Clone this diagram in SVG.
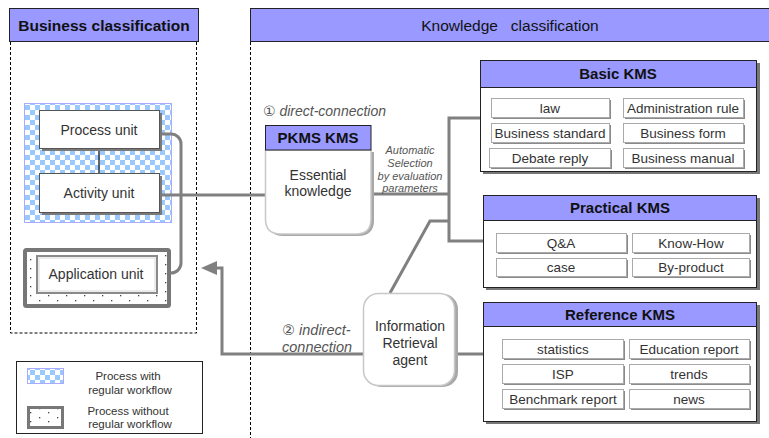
<svg xmlns="http://www.w3.org/2000/svg" width="769" height="438" viewBox="0 0 769 438">
  <style>
    .t { font-family: "Liberation Sans", Arial, "DejaVu Sans", sans-serif; fill: #333; text-anchor: middle; }
    .hd { font-size: 15px; font-weight: bold; fill: #111; }
    .it { font-size: 13.5px; }
    .em { font-style: italic; fill: #555; }
    .hdr { fill: #9999ff; stroke: #222; stroke-width: 1; }
    .dash { fill: none; stroke: #000; stroke-width: 1; stroke-dasharray: 3 2; }
    .conn { fill: none; stroke: #808080; stroke-width: 3; }
    .unit { fill: #fff; stroke: #555; stroke-width: 1; }
    .ushadow { fill: #7a7a7a; }
    .box { fill: #fff; stroke: #222; stroke-width: 1; }
    .bshadow { fill: #777; }
    .item { fill: #fff; stroke: #aaa; stroke-width: 1; }
    .ishadow { fill: #8a8a8a; }
    .soft { fill: #fff; stroke: #c8c8c8; stroke-width: 1.5; }
    .sshadow { fill: #a8a8a8; }
  </style>
  <defs>
    <pattern id="checker" width="10" height="10" patternUnits="userSpaceOnUse">
      <rect width="10" height="10" fill="#ffffff"/>
      <rect width="5" height="5" fill="#99c9ff"/>
      <rect x="5" y="5" width="5" height="5" fill="#99c9ff"/>
    </pattern>
    <pattern id="dots" width="18" height="9" patternUnits="userSpaceOnUse">
      <rect width="18" height="9" fill="#ffffff"/>
      <rect x="3" y="3" width="1.3" height="1.3" fill="#444"/>
      <rect x="12" y="7" width="1.3" height="1.3" fill="#444"/>
    </pattern>
    <marker id="arrow" markerUnits="userSpaceOnUse" markerWidth="17" markerHeight="15" refX="1" refY="7" orient="auto">
      <path d="M0,0 L16,7 L0,14 Z" fill="#808080"/>
    </marker>
  </defs>

  <rect width="769" height="438" fill="#fff"/>

  <!-- column headers and lanes -->
  <g id="business-lane">
    <rect class="hdr" x="9.5" y="8.5" width="189" height="33"/>
    <text class="t hd" x="104" y="31" style="font-size:15.5px">Business classification</text>
    <path class="dash" d="M10.5,42 V333 H196.5 V42"/>
  </g>
  <g id="knowledge-lane">
    <rect class="hdr" x="250.5" y="8.5" width="525" height="33"/>
    <text class="t" x="510" y="31" style="font-size:15.5px;fill:#111" xml:space="preserve">Knowledge   classification</text>
    <path class="dash" d="M250.5,42 V438"/>
  </g>

  <!-- regular-workflow area -->
  <rect x="24.5" y="103.5" width="147" height="119" fill="url(#checker)" stroke="#aaaaff" stroke-width="1"/>

  <!-- connectors -->
  <g id="connectors">
    <path class="conn" d="M162,134 H171 A10,10 0 0 1 181,144 V263 A10,10 0 0 1 171,273 H160"/>
    <path d="M99,148 V173" fill="none" stroke="#333" stroke-width="1.5"/>
    <path class="conn" d="M162,195 H266"/>
    <path class="conn" d="M374,194 H449"/>
    <path class="conn" d="M480,118 H449 V241 H483"/>
    <path class="conn" d="M390,293 L430,221 H449" stroke-width="2.5"/>
    <path class="conn" d="M458,354 H483"/>
    <path class="conn" d="M363,354 H222 V268 H216" marker-end="url(#arrow)"/>
  </g>

  <g id="process-unit">
    <rect class="ushadow" x="42" y="113" width="120" height="38"/>
    <rect class="unit" x="39.5" y="110.5" width="120" height="38"/>
    <text class="t" x="99" y="135" style="font-size:14px">Process unit</text>
  </g>
  <g id="activity-unit">
    <rect class="ushadow" x="42" y="176" width="120" height="39"/>
    <rect class="unit" x="39.5" y="173.5" width="120" height="39"/>
    <text class="t" x="99" y="198" style="font-size:14px">Activity unit</text>
  </g>
  <g id="application-unit">
    <rect x="25" y="250" width="144" height="56" fill="url(#dots)" stroke="#777" stroke-width="4" rx="1.5"/>
    <rect x="37" y="256" width="120" height="37" fill="#fff" stroke="#8a8a8a" stroke-width="2"/>
    <rect x="39" y="258" width="116" height="33" fill="none" stroke="#d8d8d8" stroke-width="1"/>
    <text class="t" x="96" y="279" style="font-size:14px">Application unit</text>
  </g>

  <g id="legend">
    <rect x="16.5" y="361.5" width="186" height="72" fill="#fff" stroke="#222" stroke-width="1"/>
    <rect x="27.5" y="368.5" width="36" height="15" fill="url(#checker)" stroke="#aaaaff" stroke-width="1"/>
    <rect x="28.5" y="407.5" width="34" height="20" fill="url(#dots)" stroke="#777" stroke-width="3"/>
    <g class="t" style="font-size:11.5px">
      <text x="128" y="380">Process with</text>
      <text x="130" y="394">regular workflow</text>
      <text x="128" y="415">Process without</text>
      <text x="130" y="428">regular workflow</text>
    </g>
  </g>

  <!-- labels on the knowledge side -->
  <text class="t em" x="263" y="116" style="font-size:14px;text-anchor:start">① direct-connection</text>
  <g class="t em" style="font-size:11px">
    <text x="410" y="154">Automatic</text>
    <text x="410" y="167">Selection</text>
    <text x="410" y="180">by evaluation</text>
    <text x="410" y="192">parameters</text>
  </g>
  <text class="t em" x="282" y="335" style="font-size:14.5px;text-anchor:start">② indirect-</text>
  <text class="t em" x="282" y="352" style="font-size:14.5px;text-anchor:start">connection</text>

  <g id="pkms">
    <path class="sshadow" d="M268,152 H374 V220 Q374,236 358,236 H283 Q268,236 268,220 Z"/>
    <path class="soft" d="M265.5,150 H371 V219 Q371,234 356,234 H280.5 Q265.5,234 265.5,219 Z"/>
    <rect class="hdr" x="265.5" y="125.5" width="105.5" height="24.5"/>
    <text class="t hd" x="318" y="143">PKMS KMS</text>
    <text class="t" x="318" y="180" style="font-size:14px">Essential</text>
    <text class="t" x="318" y="196" style="font-size:14px">knowledge</text>
  </g>

  <g id="retrieval-agent">
    <rect class="sshadow" x="366" y="294" width="92" height="93" rx="15"/>
    <rect class="soft" x="363.5" y="293.5" width="91" height="92" rx="15"/>
    <text class="t" x="410" y="331" style="font-size:14px">Information</text>
    <text class="t" x="410" y="348" style="font-size:14px">Retrieval</text>
    <text class="t" x="410" y="365" style="font-size:14px">agent</text>
  </g>

  <g id="basic-kms">
    <rect class="bshadow" x="483" y="63" width="277" height="111"/>
    <rect class="box" x="480.5" y="60.5" width="276" height="111"/>
    <rect class="hdr" x="480.5" y="60.5" width="276" height="27"/>
    <text class="t hd" x="618" y="79">Basic KMS</text>
    <g class="t it">
      <rect class="ishadow" x="493" y="100" width="118" height="19"/>
      <rect class="item" x="491.5" y="98.5" width="118" height="19"/>
      <text x="550" y="113">law</text>
      <rect class="ishadow" x="625" y="100" width="120" height="19"/>
      <rect class="item" x="623.5" y="98.5" width="120" height="19"/>
      <text x="683" y="113">Administration rule</text>
      <rect class="ishadow" x="493" y="125" width="118" height="19"/>
      <rect class="item" x="491.5" y="123.5" width="118" height="19"/>
      <text x="550" y="138">Business standard</text>
      <rect class="ishadow" x="625" y="125" width="120" height="19"/>
      <rect class="item" x="623.5" y="123.5" width="120" height="19"/>
      <text x="683" y="138">Business form</text>
      <rect class="ishadow" x="491" y="150" width="121" height="19"/>
      <rect class="item" x="489.5" y="148.5" width="121" height="19"/>
      <text x="550" y="163">Debate reply</text>
      <rect class="ishadow" x="625" y="150" width="120" height="19"/>
      <rect class="item" x="623.5" y="148.5" width="120" height="19"/>
      <text x="683" y="163">Business manual</text>
    </g>
  </g>

  <g id="practical-kms">
    <rect class="bshadow" x="486" y="198" width="274" height="92"/>
    <rect class="box" x="483.5" y="195.5" width="273" height="92"/>
    <rect class="hdr" x="483.5" y="195.5" width="273" height="25"/>
    <text class="t hd" x="620" y="213">Practical KMS</text>
    <g class="t it">
      <rect class="ishadow" x="498" y="235" width="130" height="19"/>
      <rect class="item" x="496.5" y="233.5" width="130" height="19"/>
      <text x="561" y="248">Q&amp;A</text>
      <rect class="ishadow" x="634" y="235" width="117" height="19"/>
      <rect class="item" x="632.5" y="233.5" width="117" height="19"/>
      <text x="691" y="248">Know-How</text>
      <rect class="ishadow" x="498" y="260" width="130" height="18"/>
      <rect class="item" x="496.5" y="258.5" width="130" height="18"/>
      <text x="561" y="272">case</text>
      <rect class="ishadow" x="634" y="260" width="117" height="18"/>
      <rect class="item" x="632.5" y="258.5" width="117" height="18"/>
      <text x="691" y="272">By-product</text>
    </g>
  </g>

  <g id="reference-kms">
    <rect class="bshadow" x="486" y="305" width="274" height="119"/>
    <rect class="box" x="483.5" y="302.5" width="273" height="119"/>
    <rect class="hdr" x="483.5" y="302.5" width="273" height="24"/>
    <text class="t hd" x="620" y="320">Reference KMS</text>
    <g class="t it">
      <rect class="ishadow" x="504" y="341" width="121" height="19"/>
      <rect class="item" x="502.5" y="339.5" width="121" height="19"/>
      <text x="563" y="354">statistics</text>
      <rect class="ishadow" x="631" y="341" width="120" height="19"/>
      <rect class="item" x="629.5" y="339.5" width="120" height="19"/>
      <text x="689" y="354">Education report</text>
      <rect class="ishadow" x="504" y="366" width="121" height="19"/>
      <rect class="item" x="502.5" y="364.5" width="121" height="19"/>
      <text x="563" y="379">ISP</text>
      <rect class="ishadow" x="631" y="366" width="120" height="19"/>
      <rect class="item" x="629.5" y="364.5" width="120" height="19"/>
      <text x="689" y="379">trends</text>
      <rect class="ishadow" x="504" y="391" width="121" height="19"/>
      <rect class="item" x="502.5" y="389.5" width="121" height="19"/>
      <text x="563" y="404">Benchmark report</text>
      <rect class="ishadow" x="631" y="391" width="120" height="19"/>
      <rect class="item" x="629.5" y="389.5" width="120" height="19"/>
      <text x="689" y="404">news</text>
    </g>
  </g>
</svg>
